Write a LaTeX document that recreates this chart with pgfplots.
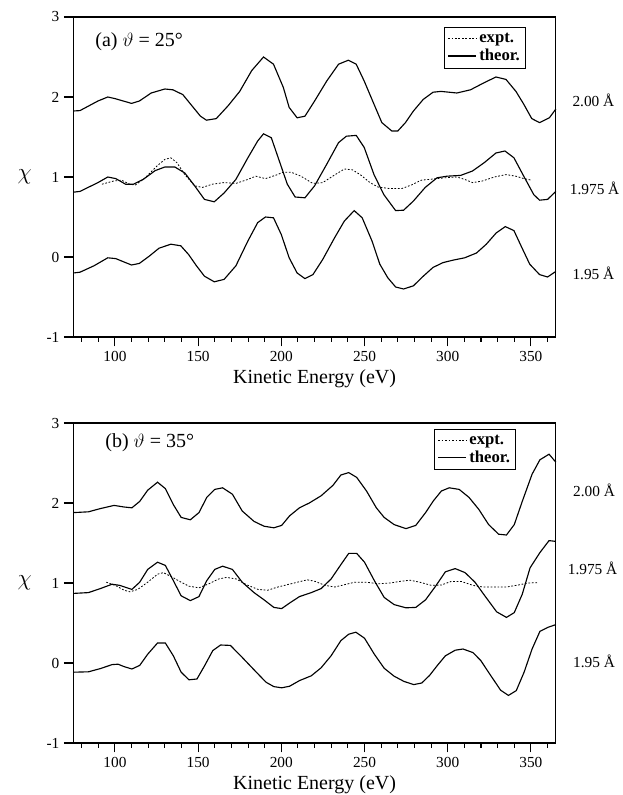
\documentclass[border=0pt]{standalone}
\usepackage{pgfplots}
\pgfplotsset{compat=1.18}
\usepackage{fontspec}
\setmainfont{Liberation Serif}
\begin{document}
\pgfplotsset{
  chiaxis/.style={
    scale only axis, width=361.9pt, height=240pt,
    xmin=75, xmax=365, ymin=-1, ymax=3,
    xtick={100,150,...,350}, minor xtick={80,90,...,360},
    ytick={-1,0,1,2,3},
    xtick pos=left, ytick pos=left,
    tick align=outside,
    major tick length=7pt, minor tick length=3.5pt,
    every tick/.style={black, line width=0.8pt},
    axis line style={line width=0.8pt},
    /pgf/number format/assume math mode=true,
    tick label style={font=\fontsize{11.5}{13}\selectfont},
    xlabel={Kinetic Energy (eV)},
    xlabel style={font=\fontsize{15}{17}\selectfont, at={(rel axis cs:0.5,0)}, anchor=center, yshift=-31.5pt},
    ylabel={$\chi$},
    ylabel style={font=\fontsize{17}{19}\selectfont, at={(rel axis cs:0,0.5)}, anchor=center, rotate=-90, xshift=-36.5pt},
    clip=false,
    legend cell align=left,
    legend style={draw=black, line width=0.8pt, font=\fontsize{12.5}{12.5}\selectfont\bfseries, inner sep=2pt, row sep=-0.5pt},
    legend image code/.code={\draw[##1] (0pt,0pt) -- (21pt,0pt);},
  },
  theo/.style={black, line width=0.85pt, forget plot},
  expt/.style={black, line width=0.6pt, dash pattern=on 1.3pt off 1.3pt, forget plot},
}
\begin{tikzpicture}
\path[use as bounding box] (-52.5pt,-343.5pt) rectangle (411.75pt,252.75pt);
% ---------------- panel (a)
\begin{axis}[chiaxis, at={(0pt,0pt)}, anchor=south west,
  legend style={at={(rel axis cs:1,1)}, anchor=north east, xshift=-22.6pt, yshift=-7.7pt}]
\addlegendimage{black, line width=0.6pt, dash pattern=on 1.3pt off 1.3pt}
\addlegendentry{expt.}
\addlegendimage{black, line width=0.85pt}
\addlegendentry{theor.}
% 2.00 A
\addplot[theo] coordinates {
(75,1.825)(79,1.83)(89.8,1.95)(95.7,2.00)(100,1.98)(110,1.92)(114.7,1.95)(121.8,2.05)(130,2.10)(134.8,2.09)(140.8,2.03)(145.5,1.91)(151.4,1.76)(155,1.71)(160.9,1.73)(168,1.89)(175,2.07)(182.2,2.33)(189.3,2.50)(195.3,2.41)(201.2,2.12)(204.7,1.87)(209.5,1.74)(214.2,1.76)(220,1.95)(227.3,2.20)(234.4,2.41)(240.3,2.46)(245,2.41)(249.8,2.20)(255.7,1.91)(260.4,1.68)(266.4,1.575)(270,1.575)(274.6,1.68)(279.4,1.825)(285.3,1.97)(291.2,2.06)(296,2.07)(305.5,2.05)(313.7,2.09)(322,2.18)(329,2.25)(335,2.22)(341,2.07)(345.7,1.91)(350.5,1.73)(355.2,1.68)(361.1,1.74)(365,1.85)};
% 1.975 A
\addplot[theo] coordinates {
(75,0.81)(79,0.82)(89.8,0.93)(95.7,1.00)(100.5,0.98)(106.4,0.91)(111.1,0.91)(117,0.97)(124.2,1.08)(130,1.125)(136,1.125)(142,1.05)(147.9,0.89)(153.8,0.72)(159.7,0.69)(165.6,0.80)(172.7,0.97)(179.9,1.24)(185.8,1.45)(189.3,1.54)(194,1.49)(198.8,1.20)(203.6,0.91)(208.3,0.75)(214.2,0.74)(220,0.89)(227.3,1.16)(234.4,1.43)(239.1,1.51)(245,1.52)(249.8,1.37)(255.7,1.03)(261.6,0.78)(268.7,0.58)(273.5,0.585)(279.4,0.70)(286.5,0.87)(293.6,0.99)(299.5,1.01)(307.8,1.02)(314.9,1.075)(322,1.18)(329,1.30)(334.4,1.325)(339.8,1.24)(345.7,1.01)(351.7,0.78)(355.2,0.71)(360,0.72)(365,0.82)};
% expt
\addplot[expt] coordinates {
(92.2,0.91)(99.3,0.95)(104,0.96)(108.8,0.91)(112.3,0.90)(118.2,0.99)(125.4,1.14)(130,1.22)(133.6,1.24)(137.2,1.18)(142,1.03)(147.9,0.89)(152.6,0.87)(158.5,0.91)(165.6,0.93)(172.7,0.92)(179.9,0.97)(184.6,1.01)(190.5,0.98)(196.4,1.02)(201.2,1.06)(205.9,1.06)(211.8,1.01)(218.9,0.92)(224.9,0.93)(232,1.025)(237.9,1.10)(242.7,1.09)(247.4,1.03)(253.3,0.93)(258.1,0.875)(265.2,0.855)(272.3,0.855)(278.2,0.90)(284.1,0.96)(291.2,0.975)(298.3,0.99)(305.5,1.00)(310.2,0.97)(314.9,0.93)(320.9,0.95)(328,1.00)(335.1,1.03)(341,1.01)(345.7,0.98)(350.5,0.96)};
% 1.95 A
\addplot[theo] coordinates {
(75,-0.20)(79,-0.19)(87.4,-0.11)(95.7,-0.01)(100.5,-0.02)(105.2,-0.06)(110,-0.10)(114.7,-0.08)(120.6,0.01)(126.5,0.11)(133.6,0.16)(139.6,0.14)(144.3,0.03)(149,-0.11)(153.8,-0.24)(159.7,-0.31)(165.6,-0.28)(172.7,-0.11)(179.9,0.20)(185.8,0.43)(190.5,0.50)(195.3,0.49)(200,0.28)(204.7,-0.01)(209.5,-0.20)(214.2,-0.27)(219,-0.22)(224.9,-0.03)(232,0.24)(237.9,0.45)(243.8,0.58)(248.6,0.49)(254.5,0.20)(259.2,-0.09)(264,-0.26)(268.7,-0.375)(273.5,-0.40)(279.4,-0.36)(285.3,-0.24)(291.2,-0.13)(297.2,-0.07)(303.1,-0.04)(310.2,-0.01)(317.3,0.05)(323.2,0.16)(329.1,0.30)(334.6,0.38)(339.8,0.33)(344.5,0.12)(349.3,-0.09)(355.2,-0.22)(360,-0.25)(365,-0.18)};
\node[anchor=west, font=\fontsize{15}{17}\selectfont, xshift=13pt, yshift=-18.5pt] at (rel axis cs:0,1) {(a) $\vartheta$ = 25°};
\node[anchor=west, font=\fontsize{11.5}{14}\selectfont, xshift=9pt] at (axis cs:365,1.955) {2.00 Å};
\node[anchor=west, font=\fontsize{11.5}{14}\selectfont, xshift=7pt] at (axis cs:365,0.857) {1.975 Å};
\node[anchor=west, font=\fontsize{11.5}{14}\selectfont, xshift=9pt] at (axis cs:365,-0.208) {1.95 Å};
\end{axis}
% ---------------- panel (b)
\begin{axis}[chiaxis, at={(0pt,-304.5pt)}, anchor=south west,
  legend style={at={(rel axis cs:1,1)}, anchor=north east, xshift=-30pt, yshift=-4.5pt}]
\addlegendimage{black, line width=0.6pt, dash pattern=on 1.3pt off 1.3pt}
\addlegendentry{expt.}
\addlegendimage{black, line width=0.85pt}
\addlegendentry{theor.}
% 2.00 A
\addplot[theo] coordinates {
(75,1.88)(84.1,1.89)(91.2,1.93)(99.5,1.97)(105.5,1.95)(110.2,1.94)(114.9,2.02)(119.7,2.16)(125.6,2.26)(130.3,2.18)(135.1,1.98)(139.8,1.82)(145.3,1.79)(150.5,1.88)(155.2,2.07)(160,2.17)(164.7,2.19)(170.6,2.11)(176.5,1.90)(183.6,1.77)(189.6,1.71)(195.5,1.69)(200.2,1.72)(205,1.84)(210.9,1.94)(216.8,2.00)(223.9,2.09)(231,2.22)(235.8,2.35)(240.5,2.38)(245.3,2.32)(251.2,2.15)(257.1,1.94)(261.8,1.82)(267.8,1.73)(274.9,1.68)(280.8,1.72)(286.7,1.88)(291.5,2.03)(296.2,2.15)(300.9,2.19)(306.9,2.17)(312.8,2.07)(318.7,1.92)(324.6,1.73)(330.6,1.61)(335.3,1.60)(340,1.73)(344.8,2.02)(350.7,2.36)(355.4,2.54)(360.9,2.61)(365,2.51)};
% 1.975 A
\addplot[theo] coordinates {
(75,0.87)(84.1,0.88)(91.2,0.93)(98.3,0.985)(103,0.97)(110.2,0.92)(114.9,1.01)(119.7,1.17)(125.6,1.26)(130.3,1.22)(135.1,1.03)(139.8,0.84)(145.3,0.78)(150.5,0.83)(155.2,1.03)(160,1.17)(164.7,1.21)(170.6,1.17)(176.5,1.01)(183.6,0.88)(189.6,0.79)(195.5,0.695)(200.2,0.68)(205,0.75)(210.9,0.83)(218,0.88)(223.9,0.93)(229.9,1.05)(235.8,1.23)(240.5,1.37)(245.3,1.37)(250,1.26)(255.9,1.03)(261.8,0.82)(267.8,0.73)(274.9,0.69)(280.8,0.695)(286.7,0.79)(292.7,0.96)(298.6,1.14)(304.5,1.18)(310.4,1.13)(316.4,1.01)(322.3,0.84)(329.4,0.64)(335.3,0.57)(340,0.63)(344.8,0.86)(349.5,1.19)(355.4,1.38)(360.9,1.53)(365,1.52)};
% expt
\addplot[expt] coordinates {
(94.8,1.01)(100.7,0.965)(105.5,0.91)(109,0.89)(113.7,0.92)(119.7,1.01)(125.6,1.11)(129.1,1.13)(133.9,1.08)(139.8,1.01)(144.5,0.96)(150.5,0.94)(156.4,0.99)(162.3,1.05)(167.1,1.07)(173,1.05)(178.9,0.98)(186,0.92)(191.9,0.91)(197.9,0.95)(203.8,0.98)(209.7,1.01)(215.6,1.04)(220.4,1.02)(226.3,0.97)(232.2,0.95)(238.2,0.98)(244.1,1.01)(251.2,1.01)(258.3,0.99)(265.4,1.00)(271.3,1.02)(277.3,1.035)(283.2,1.01)(290.3,0.97)(296.2,0.975)(302.1,1.02)(308.1,1.02)(315.2,0.97)(321.1,0.95)(328.2,0.95)(335.3,0.95)(342.4,0.975)(348.3,1.00)(354.3,1.005)};
% 1.95 A
\addplot[theo] coordinates {
(75,-0.115)(84.1,-0.11)(91.2,-0.07)(98.3,-0.02)(101.9,-0.015)(105.5,-0.045)(110.2,-0.075)(114.9,-0.03)(119.7,0.11)(125.6,0.25)(130.3,0.25)(135.1,0.09)(139.8,-0.115)(144.5,-0.21)(149.3,-0.20)(154,-0.03)(158.8,0.155)(163.5,0.225)(169.4,0.22)(176.5,0.07)(183.6,-0.085)(190.8,-0.24)(195.5,-0.295)(200.2,-0.31)(205,-0.29)(210.9,-0.22)(218,-0.16)(223.9,-0.06)(229.9,0.09)(235.8,0.28)(240.5,0.36)(244.8,0.385)(250,0.31)(255.9,0.11)(261.8,-0.065)(267.8,-0.165)(273.7,-0.23)(279.6,-0.27)(284.4,-0.25)(289.1,-0.155)(293.8,-0.03)(298.6,0.09)(304.5,0.16)(309.2,0.175)(315.2,0.13)(319.9,0.03)(325.8,-0.155)(331.8,-0.34)(336.5,-0.405)(341.2,-0.345)(345.9,-0.115)(350.7,0.175)(355.4,0.395)(360.1,0.445)(365,0.48)};
\node[anchor=west, font=\fontsize{15}{17}\selectfont, xshift=20.5pt, yshift=-14.6pt] at (rel axis cs:0,1) {(b) $\vartheta$ = 35°};
\node[anchor=west, font=\fontsize{11.5}{14}\selectfont, xshift=9.5pt] at (axis cs:365,2.156) {2.00 Å};
\node[anchor=west, font=\fontsize{11.5}{14}\selectfont, xshift=5.5pt] at (axis cs:365,1.18) {1.975 Å};
\node[anchor=west, font=\fontsize{11.5}{14}\selectfont, xshift=9.5pt] at (axis cs:365,0.017) {1.95 Å};
\end{axis}
\end{tikzpicture}
\end{document}
